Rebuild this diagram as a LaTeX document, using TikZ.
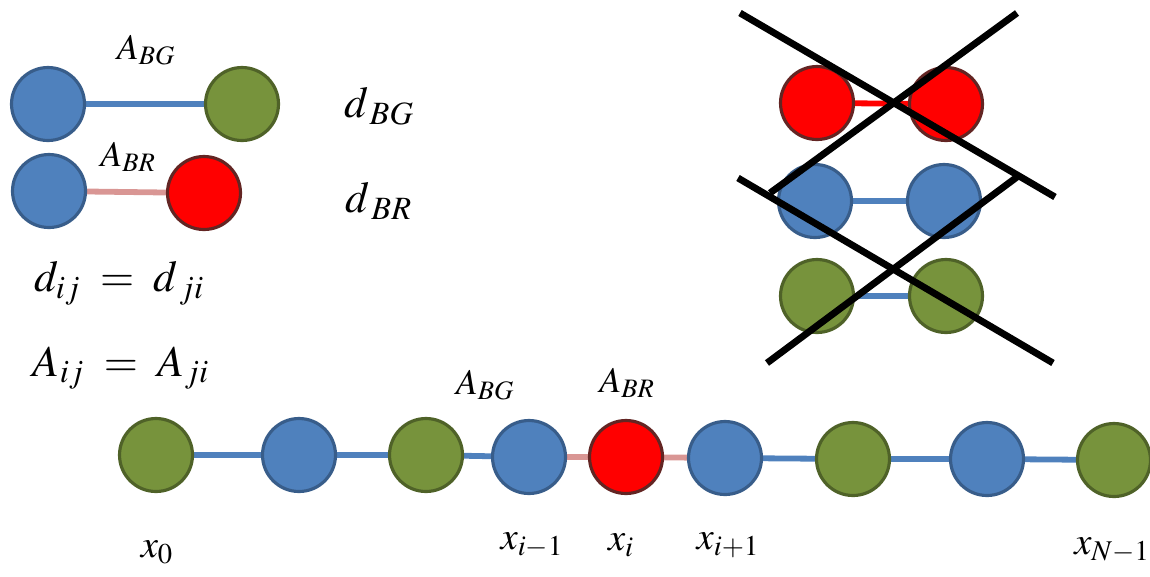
\documentclass[tikz,border=0pt]{standalone}
\usepackage{mathptmx}
\usepackage{xcolor}
\usepackage{tikz}
\usetikzlibrary{backgrounds}
\definecolor{bluefill}{HTML}{4F81BD}
\definecolor{blueline}{HTML}{385D8A}
\definecolor{greenfill}{HTML}{77933C}
\definecolor{greenline}{HTML}{4F6228}
\definecolor{redline}{HTML}{632523}
\definecolor{pinkbond}{HTML}{D99694}

\begin{document}
\begin{tikzpicture}[
    x=0.02cm, y=-0.02cm,
    atom/.style={circle, minimum size=1.46cm, inner sep=0pt, line width=1.8pt},
    bnode/.style={atom, draw=blueline, fill=bluefill},
    gnode/.style={atom, draw=greenline, fill=greenfill},
    rnode/.style={atom, draw=redline, fill=red},
    bgbond/.style={draw=bluefill, line width=3.3pt},
    brbond/.style={draw=pinkbond, line width=3.3pt},
    rrbond/.style={draw=red, line width=3.3pt},
    cross/.style={draw=black, line width=3.9pt},
    lbl/.style={inner sep=0pt, font=\fontsize{20.5}{24}\selectfont},
    eqn/.style={inner sep=0pt, font=\fontsize{25}{30}\selectfont},
    xlbl/.style={inner sep=0pt, font=\fontsize{22}{26}\selectfont}
]
\useasboundingbox (0,0) rectangle (1150,576);

% pairs, top left
\node[bnode] (p1) at (48,104) {};
\node[gnode] (p2) at (242,104) {};
\node[bnode] (q1) at (49,191) {};
\node[rnode] (q2) at (204,193) {};
\node[lbl] (abg) at (146,50) {$A_{BG}$};
\node[lbl] (abr) at (128,157) {$A_{BR}$};
\node[eqn] (dbg) at (379,106) {$d_{\,BG}$};
\node[eqn] (dbr) at (379,201) {$d_{\,BR}$};

% symmetry
\node[eqn] (dsym) at (119,283) {$d_{ij} \;=\; d_{\,ji}$};
\node[eqn] (asym) at (121,368) {$A_{ij} \;=\; A_{ji}$};

% forbidden pairs
\node[rnode] (rr1) at (817,103) {};
\node[rnode] (rr2) at (946,104) {};
\node[bnode] (bb1) at (815,201) {};
\node[bnode] (bb2) at (944,201) {};
\node[gnode] (gg1) at (817,296) {};
\node[gnode] (gg2) at (946,296) {};

% chain
\node[gnode] (c0) at (156,455) {};
\node[bnode] (c1) at (299,455) {};
\node[gnode] (c2) at (426,455) {};
\node[bnode] (c3) at (529,457) {};
\node[rnode] (c4) at (626,457) {};
\node[bnode] (c5) at (725,458) {};
\node[gnode] (c6) at (853,459) {};
\node[bnode] (c7) at (987,459) {};
\node[gnode] (c8) at (1114,460) {};
\node[lbl] (cbg) at (485,385) {$A_{BG}$};
\node[lbl] (cbr) at (627,383) {$A_{BR}$};
\node[xlbl] (x0) at (157,552) {$x_0$};
\node[xlbl] (xm) at (532,545) {$x_{i-1}$};
\node[xlbl] (xi) at (621,545) {$x_i$};
\node[xlbl] (xp) at (728,545) {$x_{i+1}$};
\node[xlbl] (xn) at (1112,550) {$x_{N-1}$};

\begin{scope}[on background layer]
\draw[bgbond] (p1) -- (p2);
\draw[brbond] (q1) -- (q2);
\draw[rrbond] (rr1) -- (rr2);
\draw[bgbond] (bb1) -- (bb2);
\draw[bgbond] (gg1) -- (gg2);
\draw[bgbond] (c0) -- (c1) -- (c2) -- (c3);
\draw[brbond] (c3) -- (c4) -- (c5);
\draw[bgbond] (c5) -- (c6) -- (c7) -- (c8);
\end{scope}

% crossed out
\draw[cross] (740,13) -- (1055,197);
\draw[cross] (1017,13) -- (770,193);
\draw[cross] (738,178) -- (1053,363);
\draw[cross] (1017,177) -- (767,363);
\end{tikzpicture}
\end{document}
